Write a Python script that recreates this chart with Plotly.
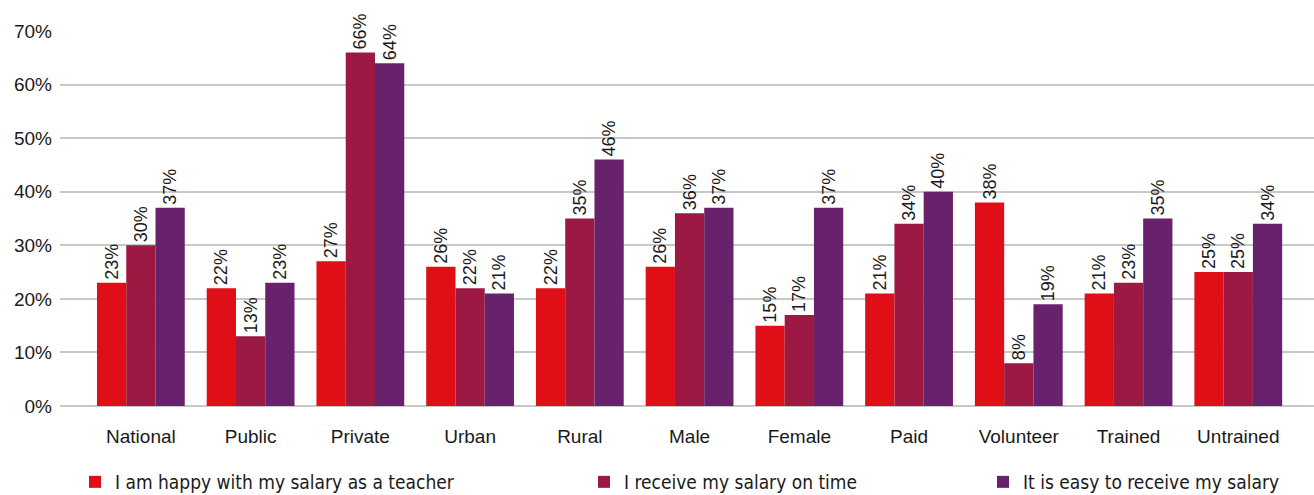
import plotly.graph_objects as go

categories = ["National", "Public", "Private", "Urban", "Rural", "Male", "Female",
              "Paid", "Volunteer", "Trained", "Untrained"]
happy = [23, 22, 27, 26, 22, 26, 15, 21, 38, 21, 25]
on_time = [30, 13, 66, 22, 35, 36, 17, 34, 8, 23, 25]
easy = [37, 23, 64, 21, 46, 37, 37, 40, 19, 35, 34]
series_names = ["I am happy with my salary as a teacher",
                "I receive my salary on time",
                "It is easy to receive my salary"]
y_ticks = [0, 10, 20, 30, 40, 50, 60, 70]

colors = ["#E00E17", "#9B1942", "#68226C"]
legend_ids = ["legend", "legend2", "legend3"]
legend_x = [75, 584, 983]

fig = go.Figure()
for name, vals, col, lg in zip(series_names, [happy, on_time, easy], colors, legend_ids):
    fig.add_trace(go.Bar(
        x=categories, y=vals, name=name, marker_color=col, marker_line_width=0,
        text=[f"{v}%" for v in vals], textposition="outside", textangle=-90,
        textfont=dict(family="Liberation Sans", size=18, color="#1a1a1a"),
        constraintext="none", cliponaxis=False, legend=lg,
    ))

layout_legends = {}
for lg, lx in zip(legend_ids, legend_x):
    layout_legends[lg] = dict(
        xref="container", yref="container", x=lx / 1314, y=1 - 482 / 495,
        xanchor="left", yanchor="middle", orientation="h",
        font=dict(family="DejaVu Sans Condensed", size=19, color="#1a1a1a"),
        bgcolor="rgba(0,0,0,0)", itemwidth=30, tracegroupgap=0,
    )

fig.update_layout(
    width=1314, height=495,
    margin=dict(l=60, r=0, t=31, b=89),
    paper_bgcolor="white", plot_bgcolor="white",
    barmode="group", bargap=0.2, bargroupgap=0,
    showlegend=True,
    **layout_legends,
    xaxis=dict(
        range=[-0.737, 10.69], showgrid=False, showline=False, ticks="",
        tickfont=dict(family="Liberation Sans", size=19, color="#1a1a1a"),
        ticklabelstandoff=17,
    ),
    yaxis=dict(
        range=[0, 70], tickvals=y_ticks, ticktext=[f"{t}%" for t in y_ticks],
        showgrid=True, gridcolor="#C8C8C8", gridwidth=2,
        zeroline=True, zerolinecolor="#C8C8C8", zerolinewidth=2,
        showline=False, ticks="",
        tickfont=dict(family="Liberation Sans", size=19, color="#1a1a1a"),
        ticklabelstandoff=7,
    ),
)

fig.write_html("out.html")
